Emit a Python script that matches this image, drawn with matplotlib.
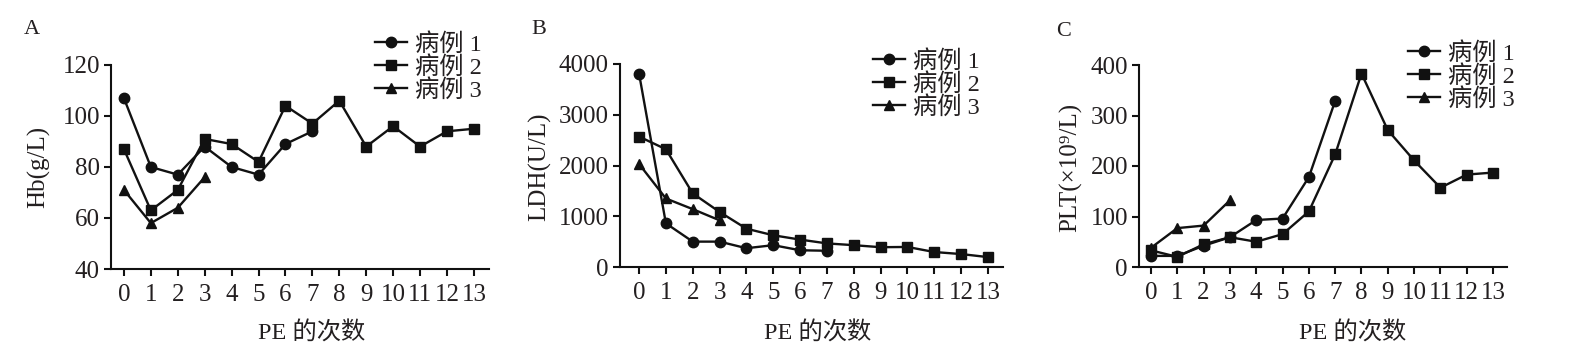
import matplotlib
matplotlib.use("Agg")
import matplotlib.pyplot as plt

FAM = ['Liberation Serif', 'Noto Sans CJK SC', 'DejaVu Sans']
plt.rcParams['font.family'] = FAM

pe = list(range(14))
labels = ['病例 1', '病例 2', '病例 3']

hb1 = [107, 80, 77, 88, 80, 77, 89, 94]
hb2 = [87, 63, 71, 91, 89, 82, 104, 97, 106, 88, 96, 88, 94, 95]
hb3 = [71, 58, 64, 76]

ldh1 = [3810, 860, 500, 500, 370, 430, 330, 320]
ldh2 = [2570, 2320, 1450, 1085, 755, 625, 540, 465, 430, 390, 395, 295, 255, 195]
ldh3 = [2030, 1350, 1140, 920]

plt1 = [22, 22, 42, 59, 93, 96, 178, 329]
plt2 = [33, 20, 45, 59, 50, 65, 110, 223, 383, 271, 211, 157, 183, 187]
plt3 = [38, 77, 82, 132]

W, H = 1577, 359
fig = plt.figure(figsize=(W / 100, H / 100), dpi=100)

TXT = '#231f20'
LC = '#111111'

def px_axes(l, r, t, b):
    return fig.add_axes([l / W, 1 - b / H, (r - l) / W, (b - t) / H])

panels = [
    dict(box=(111, 489, 65, 269), xlim=(-0.48, 13.56), ylim=(40, 120), yticks=[40, 60, 80, 100, 120],
         data=(hb1, hb2, hb3), ylabel='Hb(g/L)', ylx=39, letter='A', lx=32, ly=30,
         leg=(375, 33), xl=312),
    dict(box=(620, 1003, 64, 267), xlim=(-0.71, 13.56), ylim=(0, 4000), yticks=[0, 1000, 2000, 3000, 4000],
         data=(ldh1, ldh2, ldh3), ylabel='LDH(U/L)', ylx=540, letter='B', lx=539, ly=30,
         leg=(873, 50), xl=818),
    dict(box=(1139, 1507, 65, 267), xlim=(-0.456, 13.53), ylim=(0, 400), yticks=[0, 100, 200, 300, 400],
         data=(plt1, plt2, plt3), ylabel='PLT(×10⁹/L)', ylx=1071, letter='C', lx=1064, ly=32,
         leg=(1408, 42), xl=1353),
]

markers = ['o', 's', '^']
msizes = [7.5, 7.5, 7]

for p in panels:
    ax = px_axes(*p['box'])
    for d, m, ms, lab in zip(p['data'], markers, msizes, labels):
        ax.plot(pe[:len(d)], d, color=LC, lw=1.7, marker=m, ms=ms, mfc=LC, mec=LC,
                label=lab, clip_on=False)
    ax.set_xlim(*p['xlim'])
    ax.set_ylim(*p['ylim'])
    ax.set_xticks(pe)
    ax.set_yticks(p['yticks'])
    for s in ['top', 'right']:
        ax.spines[s].set_visible(False)
    for s in ['left', 'bottom']:
        ax.spines[s].set_linewidth(1.5)
        ax.spines[s].set_color(LC)
    ax.tick_params(axis='both', direction='out', length=5, width=1.5, color=LC,
                   labelsize=18, labelcolor=TXT)
    ax.tick_params(axis='x', pad=6)
    ax.tick_params(axis='y', pad=3)
    ax.patch.set_alpha(0)
    fig.text(p['ylx'] / W, 1 - 167 / H, p['ylabel'], rotation=90, ha='center', va='center',
             fontsize=18, color=TXT, family=FAM)
    fig.text(p['xl'] / W, 1 - 333 / H, 'PE 的次数', ha='center', va='center',
             fontsize=17.5, color=TXT, family=FAM)
    fig.text(p['lx'] / W, 1 - p['ly'] / H, p['letter'], ha='center', va='center',
             fontsize=16, color=TXT, family=FAM)
    lx, ly = p['leg']
    ax.legend(loc='upper left', bbox_to_anchor=(lx / W, 1 - ly / H), bbox_transform=fig.transFigure,
              frameon=False, borderpad=0, borderaxespad=0, handlelength=1.3, handletextpad=0.35,
              labelspacing=0.0, prop={'family': FAM, 'size': 17.5}, labelcolor=TXT)

fig.savefig('out.png', dpi=100)
